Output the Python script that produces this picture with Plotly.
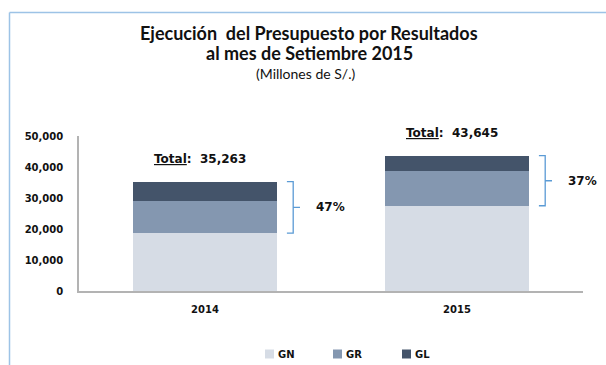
import plotly.graph_objects as go

# Budget execution by government level (millions of S/.)
years = ["2014", "2015"]
gn = [18690, 27500]   # Gobierno Nacional
gr = [10440, 11210]   # Gobiernos Regionales
gl = [6133, 4935]     # Gobiernos Locales
series_names = ["GN", "GR", "GL"]
series_colors = ["#D6DCE5", "#8497B0", "#44546A"]
y_ticks = [0, 10000, 20000, 30000, 40000, 50000]

W, H = 606, 365
ML, MR, MT, MB = 79, 23, 136, 74
PW, PH = W - ML - MR, H - MT - MB


def px_x(p):
    return (p - ML) / PW


def px_y(p):
    return (H - MB - p) / PH


xs = list(range(len(years)))
totals = [a + b + c for a, b, c in zip(gn, gr, gl)]

fig = go.Figure()
for name, vals, col in zip(series_names, [gn, gr, gl], series_colors):
    fig.add_trace(go.Bar(x=xs, y=vals, name=name, marker_color=col,
                         marker_line_width=0, width=0.57, showlegend=False))

ann = []
shapes = []
bold = dict(family="DejaVu Sans", color="#111111", weight="bold")

for i, tot in enumerate(totals):
    ann.append(dict(x=i, y=tot, xref="x", yref="y", yshift=23, xshift=-5,
                    yanchor="middle",
                    text="<u>Total</u>:\u00a0 " + f"{tot:,}",
                    showarrow=False, font=dict(size=12, **bold)))
    share = (gr[i] + gl[i]) / tot
    top, bot = tot, gn[i]
    mid = (top + bot) / 2
    x0, x1, x2 = i + 0.325, i + 0.35, i + 0.377
    shapes.append(dict(type="path", xref="x", yref="y",
                       path=f"M {x0},{top} L {x1},{top} L {x1},{bot} L {x0},{bot} "
                            f"M {x1},{mid} L {x2},{mid}",
                       line=dict(color="#5B9BD5", width=1.3)))
    ann.append(dict(x=i + 0.432, y=mid, xref="x", yref="y", xanchor="left",
                    yanchor="middle", text=f"{share:.0%}", showarrow=False,
                    font=dict(size=12, **bold)))

# Title block
title_font = dict(family="Lato", color="#111111")
ann += [
    dict(x=px_x(309), y=px_y(33), xref="paper", yref="paper", yanchor="middle",
         text="<b>Ejecución\u00a0 del Presupuesto por Resultados</b>",
         showarrow=False, font=dict(size=18, **title_font)),
    dict(x=px_x(309), y=px_y(53), xref="paper", yref="paper", yanchor="middle",
         text="<b>al mes de Setiembre 2015</b>",
         showarrow=False, font=dict(size=18, **title_font)),
    dict(x=px_x(305), y=px_y(73), xref="paper", yref="paper", yanchor="middle",
         text="(Millones de S/.)",
         showarrow=False, font=dict(size=14, **title_font)),
]

# Legend row
leg_x = [265, 333, 402]
for name, col, lx in zip(series_names, series_colors, leg_x):
    shapes.append(dict(type="rect", xref="paper", yref="paper",
                       x0=px_x(lx), x1=px_x(lx + 9), y0=px_y(358.5), y1=px_y(349.5),
                       fillcolor=col, line_width=0))
    ann.append(dict(x=px_x(lx + 11), y=px_y(354), xref="paper", yref="paper",
                    xanchor="left", yanchor="middle", text=name, showarrow=False,
                    font=dict(size=10, **bold)))

# Outer chart frame (left and top edges)
frame = dict(color="#9DC3E6", width=1.5)
shapes.append(dict(type="line", xref="paper", yref="paper",
                   x0=px_x(9.5), x1=px_x(9.5), y0=px_y(12.5), y1=px_y(380), line=frame))
shapes.append(dict(type="line", xref="paper", yref="paper",
                   x0=px_x(9.5), x1=px_x(620), y0=px_y(12.5), y1=px_y(12.5), line=frame))

fig.update_layout(
    barmode="stack",
    width=W, height=H,
    margin=dict(l=ML, r=MR, t=MT, b=MB),
    paper_bgcolor="white", plot_bgcolor="white",
    annotations=ann, shapes=shapes,
    xaxis=dict(range=[-0.5, 1.5], tickvals=xs, ticktext=years,
               showline=True, linecolor="#B3B3B3", linewidth=1.5,
               showgrid=False, zeroline=False, ticks="",
               tickfont=dict(size=10, **bold), ticklabelstandoff=8),
    yaxis=dict(range=[0, 50000], tickvals=y_ticks,
               tickformat=",", showline=True, linecolor="#B3B3B3", linewidth=1.5,
               showgrid=False, zeroline=False, ticks="",
               tickfont=dict(size=10, **bold), ticklabelstandoff=12),
)

fig.write_html("out.html")
